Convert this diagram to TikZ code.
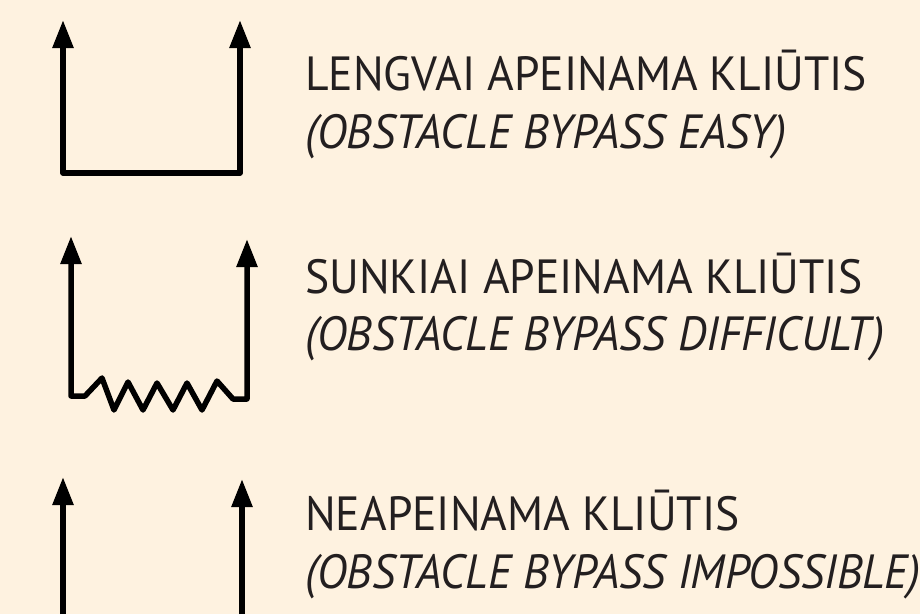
\documentclass[tikz,border=0pt]{standalone}
\usepackage{fontspec}
\setmainfont{PT Sans}[FakeStretch=0.95]
\usetikzlibrary{arrows.meta}
\definecolor{paper}{HTML}{FEF2E0}
\definecolor{ink}{HTML}{231F20}
\begin{document}
\begin{tikzpicture}[x=1pt,y=-1pt,
  wall/.style={line width=5.5pt,line join=round,{Triangle[width=20pt,length=28pt]}-{Triangle[width=20pt,length=28pt]}},
  post/.style={line width=5.5pt,-{Triangle[width=20pt,length=28pt]}},
  label/.style={anchor=base west,inner sep=0pt,text=ink,font=\fontsize{48}{48}\selectfont},
  sublabel/.style={label,font=\fontsize{48}{48}\selectfont\itshape}]
\fill[paper] (0,0) rectangle (920,614);
\useasboundingbox (0,0) rectangle (920,614);
% easy bypass
\draw[wall] (63,20) -- (63,173) -- (240,173) -- (240,20);
\node[label] (easy) at (305,90) {LENGVAI APEINAMA KLIŪTIS};
\node[sublabel] (easyen) at (305,148) {(OBSTACLE BYPASS EASY)};
% difficult bypass
\draw[wall] (71,236) -- (71,396) -- (85,396) -- (102,378) -- (114,410) -- (128,382) -- (143,410)
  -- (157,383) -- (173,410) -- (187,383) -- (202,410) -- (217,381) -- (233,399) -- (247,399) -- (247,239);
\node[label] (hard) at (305,293) {SUNKIAI APEINAMA KLIŪTIS};
\node[sublabel] (harden) at (305,350) {(OBSTACLE BYPASS DIFFICULT)};
% impossible
\draw[post] (63,614) -- (63,477);
\draw[post] (242,614) -- (242,479);
\node[label] (none) at (305,530) {NEAPEINAMA KLIŪTIS};
\node[sublabel] (noneen) at (305,588) {(OBSTACLE BYPASS IMPOSSIBLE)};
\end{tikzpicture}
\end{document}
